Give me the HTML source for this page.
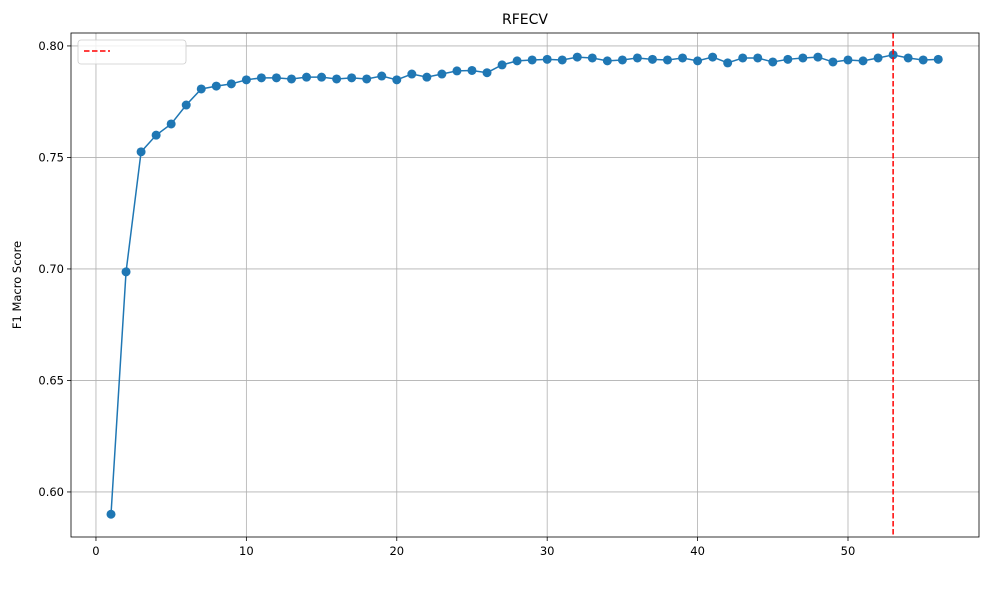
<!DOCTYPE html>
<html><head><meta charset="utf-8"><style>
body{margin:0;background:#fff;font-family:"Liberation Sans","DejaVu Sans",sans-serif;}
svg text{font-family:"DejaVu Sans","Liberation Sans",sans-serif;}
</style></head><body>
<svg id="chart" width="989" height="590" xmlns="http://www.w3.org/2000/svg"></svg>
<script>
const nFeatures = [1,2,3,4,5,6,7,8,9,10,11,12,13,14,15,16,17,18,19,20,21,22,23,24,25,26,27,28,29,30,31,32,33,34,35,36,37,38,39,40,41,42,43,44,45,46,47,48,49,50,51,52,53,54,55,56];
const f1Scores = [0.590,0.6987,0.7525,0.760,0.765,0.7735,0.7807,0.782,0.783,0.7848,0.7857,0.7857,0.7852,0.786,0.786,0.7852,0.7857,0.7852,0.7865,0.7848,0.7874,0.786,0.7874,0.7888,0.789,0.788,0.7915,0.7933,0.7937,0.794,0.7937,0.795,0.7946,0.7933,0.7937,0.7946,0.794,0.7937,0.7946,0.7933,0.795,0.7924,0.7946,0.7946,0.7928,0.794,0.7946,0.795,0.7928,0.7937,0.7933,0.7946,0.796,0.7946,0.7937,0.794];
const bestN = 53;
const xTicks = [0,10,20,30,40,50];
const yTicks = [0.60,0.65,0.70,0.75,0.80];

const L=71,R=979,T=33,B=537;
const xMin=-1.66,xMax=58.71,yMin=0.5798,yMax=0.8058;
const sx=v=>L+(v-xMin)/(xMax-xMin)*(R-L);
const sy=v=>B-(v-yMin)/(yMax-yMin)*(B-T);
const svg=document.getElementById('chart');
const NS='http://www.w3.org/2000/svg';
function mk(tag,attrs,parent){const e=document.createElementNS(NS,tag);for(const k in attrs)e.setAttribute(k,attrs[k]);(parent||svg).appendChild(e);return e;}

xTicks.forEach(t=>{const x=sx(t);
 const g=mk('line',{x1:x,x2:x,y1:T,y2:B,stroke:'#b0b0b0','stroke-width':0.8});
 
 
 mk('line',{x1:x,x2:x,y1:B,y2:B+4,stroke:'#000','stroke-width':0.8});
 const tx=mk('text',{x:x,y:B+18,'text-anchor':'middle','font-size':11.5});tx.textContent=t;
 
 
});
yTicks.forEach(t=>{const y=sy(t);
 const g=mk('line',{x1:L,x2:R,y1:y,y2:y,stroke:'#b0b0b0','stroke-width':0.8});
 
 
 mk('line',{x1:L-4,x2:L,y1:y,y2:y,stroke:'#000','stroke-width':0.8});
 const tx=mk('text',{x:L-7,y:y+4,'text-anchor':'end','font-size':11.5});tx.textContent=t.toFixed(2);
 
 
});

const pts=nFeatures.map((n,i)=>sx(n)+','+sy(f1Scores[i])).join(' ');
const line=mk('polyline',{points:pts,fill:'none',stroke:'#1f77b4','stroke-width':1.5});


nFeatures.forEach((n,i)=>{const c=mk('circle',{cx:sx(n),cy:sy(f1Scores[i]),r:4.5,fill:'#1f77b4'});
 
 
});
const bl=mk('line',{x1:sx(bestN),x2:sx(bestN),y1:T,y2:B,stroke:'#ff0000','stroke-width':1.5,'stroke-dasharray':'5.5,2.5'});



const frame=mk('rect',{x:L,y:T,width:R-L,height:B-T,fill:'none',stroke:'#000','stroke-width':0.8});



const lg=mk('rect',{x:78,y:40,width:108,height:24,rx:3,fill:'#fff','fill-opacity':0.8,stroke:'#ccc','stroke-width':0.8});


const ll=mk('line',{x1:84,x2:110,y1:51,y2:51,stroke:'#ff0000','stroke-width':1.5,'stroke-dasharray':'5.5,2.5'});



const title=mk('text',{x:(L+R)/2,y:24,'text-anchor':'middle','font-size':14});title.textContent='RFECV';


const yt=mk('text',{x:21,y:(T+B)/2,'text-anchor':'middle','font-size':11.5,transform:'rotate(-90 21 '+((T+B)/2)+')'});yt.textContent='F1 Macro Score';


</script>
</body></html>
